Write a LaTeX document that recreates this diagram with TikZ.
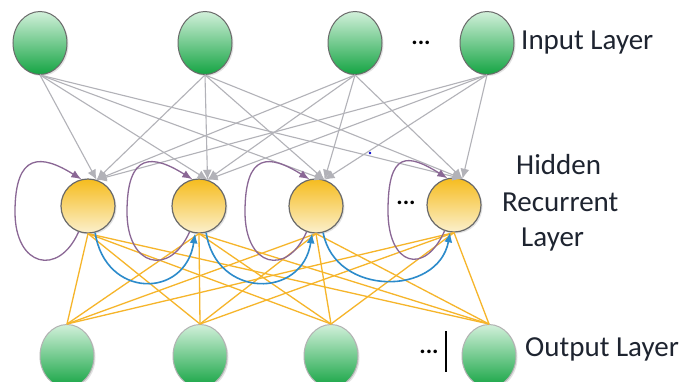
\documentclass[tikz,border=0pt]{standalone}
\usepackage{fontspec}
\setmainfont{Carlito}
\usetikzlibrary{arrows.meta,shadows,shapes.geometric,calc}
\definecolor{greentop}{HTML}{D2F0DA}
\definecolor{greenbot}{HTML}{14A443}
\definecolor{yellowtop}{HTML}{F6BC1E}
\definecolor{yellowbot}{HTML}{FBF0CC}
\definecolor{nodeline}{HTML}{6A6A6A}
\definecolor{wirein}{HTML}{B2B2B8}
\definecolor{wireout}{HTML}{F6B52A}
\definecolor{loopcol}{HTML}{8A6795}
\definecolor{arccol}{HTML}{2C8BCB}
\definecolor{textcol}{HTML}{1E2430}
\begin{document}
\begin{tikzpicture}[x=1pt,y=-1pt,
  iounit/.style={ellipse, draw=nodeline, line width=1pt, top color=greentop,
    bottom color=greenbot, minimum width=54pt, minimum height=63pt, inner sep=0pt,
    drop shadow={shadow xshift=1.5pt, shadow yshift=-1.5pt, fill=black!22}},
  outunit/.style={iounit, draw=black!30},
  hidunit/.style={circle, draw=nodeline, line width=1.2pt, top color=yellowtop,
    bottom color=yellowbot, minimum size=54pt, inner sep=0pt,
    drop shadow={shadow xshift=1.5pt, shadow yshift=-1.5pt, fill=black!22}},
  inwire/.style={draw=wirein, line width=1.1pt, -{Latex[length=10pt,width=9pt]}},
  outwire/.style={draw=wireout, line width=1.3pt},
  selfloop/.style={draw=loopcol, line width=1.3pt, -{Latex[length=10pt,width=8pt]}},
  timearc/.style={draw=arccol, line width=1.6pt, -{Latex[length=10pt,width=8pt]}},
  laytext/.style={font=\fontsize{29}{34}\selectfont, text=textcol, inner sep=0pt, anchor=west},
  dotstext/.style={font=\fontsize{24}{28}\selectfont\bfseries, text=black, inner sep=0pt}
]
\clip (0,0) rectangle (687,381);
\fill[white] (0,0) rectangle (687,381);

% input layer
\node[iounit] (i1) at (40,43) {};
\node[iounit] (i2) at (205,43) {};
\node[iounit] (i3) at (355,43) {};
\node[iounit] (i4) at (487,43) {};

% hidden recurrent layer
\node[hidunit] (h1) at (88,206) {};
\node[hidunit] (h2) at (199,206) {};
\node[hidunit] (h3) at (316,206) {};
\node[hidunit] (h4) at (454,205) {};

% output layer
\node[outunit] (o1) at (67,356) {};
\node[outunit] (o2) at (200,356) {};
\node[outunit] (o3) at (331,356) {};
\node[outunit] (o4) at (489,356) {};

% output-to-hidden weights
\foreach \o in {1,...,4}
  \foreach \h in {1,...,4}
    \draw[outwire] (o\o.north) -- (h\h.270);

% input-to-hidden weights
\foreach \i in {1,...,4}
  \foreach \h in {1,...,4}
    \draw[inwire] (i\i.south) -- (h\h.72);

% recurrent self loops
\foreach \h/\w in {1/73,2/72,3/71,4/66}{
  \coordinate (m\h) at ($(h\h)+(-\w,6)$);
  \draw[selfloop] (h\h.250) .. controls +(-20,45) and +(0,55) .. (m\h)
    .. controls +(0,-60) and +(-40,-25) .. (h\h.104);
}

% connections between neighbouring hidden units
\draw[timearc] (h1.285) .. controls +(10,66) and +(-10,66) .. (h2.262);
\draw[timearc] (h2.285) .. controls +(10,66) and +(-10,66) .. (h3.262);
\draw[timearc] (h3.285) .. controls +(12,64) and +(-12,64) .. (h4.262);

% ellipsis marks
\node[dotstext] (d1) at (421,43) {...};
\node[dotstext] (d2) at (406,203) {...};
\node[dotstext] (d3) at (429,352) {...};
\draw[black, line width=1.6pt] (446,331) -- (446,372);
\fill[blue!80!black] (370,153) circle (1.3pt);

% layer captions
\node[laytext] (t1) at (521,43) {Input Layer};
\node[laytext] (t2) at (516,165) {Hidden};
\node[laytext] (t3) at (502,202) {Recurrent};
\node[laytext] (t4) at (521,240) {Layer};
\node[laytext] (t5) at (525,349) {Output Layer};
\end{tikzpicture}
\end{document}
